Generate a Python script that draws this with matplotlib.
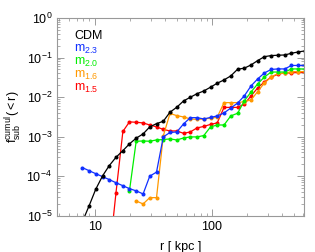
import matplotlib
matplotlib.use('Agg')
import matplotlib.pyplot as plt
from matplotlib.ticker import LogLocator, NullFormatter

plt.rcParams['font.family'] = ['Liberation Sans', 'DejaVu Sans']
plt.rcParams['mathtext.fontset'] = 'custom'
plt.rcParams['mathtext.rm'] = 'Liberation Sans'
plt.rcParams['mathtext.it'] = 'Liberation Sans:italic'

# radial bins [kpc]
r = [7.83, 8.95, 10.2, 11.7, 13.3, 15.2, 17.4, 19.8, 22.6, 25.9, 29.5,
     33.7, 38.5, 43.9, 50.2, 57.3, 65.4, 74.7, 85.3, 97.4, 111, 127,
     145, 166, 189, 216, 246, 281, 321, 367, 419, 478, 546, 624]

f_cdm = [7e-6, 1.79e-5, 4.7e-5, 1.04e-4, 1.86e-4, 3.03e-4, 4.45e-4, 6.6e-4,
         9.2e-4, 1.18e-3, 1.77e-3, 2.14e-3, 2.46e-3, 4.16e-3, 5.56e-3, 8.0e-3,
         9.9e-3, 1.22e-2, 1.43e-2, 1.78e-2, 2.24e-2, 2.72e-2, 3.43e-2, 5.07e-2,
         5.37e-2, 6.5e-2, 8.36e-2, 0.105, 0.112, 0.114, 0.116, 0.128, 0.138, 0.147]

f_m23 = [1.67e-4, 1.39e-4, 1.17e-4, 9.8e-5, 8.3e-5, 6.9e-5, 5.8e-5, 4.9e-5,
         4.3e-5, 3.6e-5, 1.01e-4, 1.28e-4, 9.9e-4, 1.28e-3, 1.32e-3, 2.1e-3,
         3.03e-3, 3.03e-3, 2.81e-3, 3.07e-3, 3.35e-3, 3.99e-3, 5.3e-3, 7.1e-3,
         1.07e-2, 1.92e-2, 2.88e-2, 4.08e-2, 5.0e-2, 5.15e-2, 5.15e-2, 6.3e-2,
         6.3e-2, 6.3e-2]

r_m20 = r[7:]
f_m20 = [4.28e-5, 7.7e-4, 7.8e-4, 7.7e-4, 8.3e-4, 8.5e-4, 8.8e-4, 8.3e-4,
         9.3e-4, 9.9e-4, 9.9e-4, 1.07e-3, 1.77e-3, 1.98e-3, 1.98e-3, 3.35e-3,
         3.92e-3, 8.0e-3, 1.35e-2, 2.15e-2, 3.23e-2, 4.3e-2, 4.3e-2, 4.3e-2,
         5.15e-2, 5.15e-2, 5.15e-2]

r_m16 = r[8:]
f_m16 = [2.39e-5, 2.01e-5, 2.9e-5, 2.9e-5, 1.05e-3, 3.87e-3, 3.41e-3, 3.16e-3,
         2.81e-3, 2.73e-3, 2.81e-3, 2.93e-3, 3.1e-3, 7.26e-3, 7.26e-3, 7.26e-3,
         7.7e-3, 8.5e-3, 1.38e-2, 2.28e-2, 3.23e-2, 3.96e-2, 4.0e-2, 4.4e-2,
         4.4e-2, 4.4e-2]

r_m15 = r[4:]
f_m15 = [9.2e-7, 3.87e-5, 1.36e-3, 2.37e-3, 2.32e-3, 2.23e-3, 1.98e-3, 1.77e-3,
         1.53e-3, 1.40e-3, 1.40e-3, 1.22e-3, 1.32e-3, 1.67e-3, 1.82e-3, 2.05e-3,
         2.23e-3, 5.5e-3, 5.5e-3, 5.5e-3, 6.7e-3, 1.07e-2, 1.71e-2, 2.42e-2,
         3.2e-2, 3.8e-2, 4.08e-2, 4.08e-2, 4.2e-2, 4.2e-2]

series = [
    (r_m15, f_m15, '#ff0000'),
    (r_m16, f_m16, '#ff9900'),
    (r_m20, f_m20, '#00ee00'),
    (r, f_m23, '#1030ff'),
]

fig = plt.figure(figsize=(3.15, 2.52), dpi=100)
ax = fig.add_axes([0.181, 0.143, 0.784, 0.786])

for xs, ys, c in series:
    ax.plot(xs, ys, color=c, lw=0.9, marker='o', ms=1.9, mec=c)
ax.plot(r, f_cdm, color='black', lw=0.9, marker='o', ms=1.9)

ax.set_xscale('log')
ax.set_yscale('log')
ax.set_xlim(4.77, 611)
ax.set_ylim(1e-5, 1)

ax.xaxis.set_minor_locator(LogLocator(base=10, subs=range(2, 10)))
ax.xaxis.set_minor_formatter(NullFormatter())
ax.yaxis.set_minor_locator(LogLocator(base=10, subs=range(2, 10), numticks=20))
ax.yaxis.set_minor_formatter(NullFormatter())
ax.set_xticks([10, 100])
ax.set_xticklabels(['10', '100'])

ax.tick_params(which='both', direction='in', top=True, right=True,
               color='0.55', labelsize=9)
ax.tick_params(which='major', length=5, width=0.6)
ax.tick_params(which='minor', length=2.5, width=0.5)
for s in ax.spines.values():
    s.set_color('0.6')
    s.set_linewidth(0.8)

ax.set_xlabel('r [ kpc ]', fontsize=9, labelpad=6)
ax.set_ylabel(r'$\mathrm{f}_{\mathrm{sub}}^{\mathrm{cumul}}(<\mathrm{r})$', fontsize=9, labelpad=2)

# legend as coloured text
labels = [('CDM', 'black'), (r'$\mathrm{m}_{2.3}$', '#1030ff'),
          (r'$\mathrm{m}_{2.0}$', '#00ee00'), (r'$\mathrm{m}_{1.6}$', '#ff9900'),
          (r'$\mathrm{m}_{1.5}$', '#ff0000')]
for i, (t, c) in enumerate(labels):
    ax.text(0.07, 0.91 - i * 0.067, t, color=c, fontsize=9,
            transform=ax.transAxes, va='center', ha='left')

fig.savefig('out.png', dpi=100)
